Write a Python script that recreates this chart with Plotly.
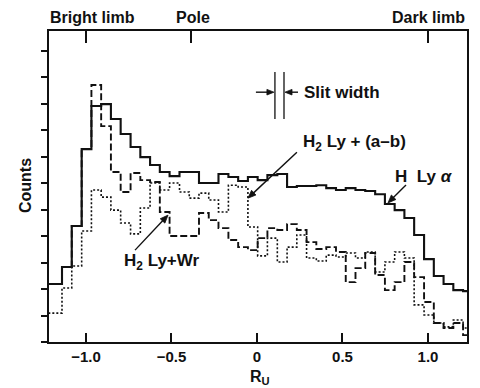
import math
import plotly.graph_objects as go

# ---- data ----
bin_edges = [-1.220, -1.140, -1.083, -1.025, -0.968, -0.911, -0.854, -0.797, -0.739,
             -0.682, -0.625, -0.568, -0.511, -0.453, -0.396, -0.339, -0.282, -0.225,
             -0.167, -0.110, -0.053, 0.004, 0.061, 0.119, 0.176, 0.233, 0.290, 0.347,
             0.405, 0.462, 0.519, 0.576, 0.633, 0.691, 0.748, 0.805, 0.862, 0.919,
             0.977, 1.034, 1.091, 1.148, 1.205, 1.262]

h_ly_alpha = [2.19, 2.83, 4.38, 7.28, 8.91, 8.98, 8.42, 7.85, 7.36, 6.98, 6.68,
              6.42, 6.26, 6.42, 6.42, 6.00, 6.00, 6.34, 6.23, 6.08, 6.23, 6.11,
              6.30, 6.34, 5.85, 5.89, 5.89, 5.92, 5.81, 5.74, 5.81, 5.74, 5.70,
              5.58, 5.21, 4.98, 4.68, 4.04, 3.13, 2.49, 2.19, 1.96, 1.92]

h2_ly_wr = [2.19, 2.83, 4.38, 7.28, 9.70, 8.15, 6.42, 5.66, 6.38, 6.11, 6.04,
            4.91, 4.00, 4.00, 4.00, 4.87, 4.60, 4.30, 3.85, 3.58, 3.47, 3.92,
            4.30, 4.23, 4.45, 4.23, 3.77, 3.51, 3.58, 3.40, 2.26, 2.79, 3.36,
            2.53, 1.96, 2.26, 3.02, 2.45, 1.51, 0.72, 0.53, 0.72, 0.26]

h2_ly_ab = [1.09, 2.04, 2.87, 4.19, 5.74, 5.47, 4.98, 4.49, 4.08, 5.06, 6.00,
            5.74, 6.00, 5.66, 5.43, 5.62, 5.36, 4.91, 5.92, 5.85, 4.34, 3.25,
            3.92, 3.02, 3.58, 4.04, 3.17, 3.06, 3.28, 3.21, 3.36, 3.17, 3.40,
            2.64, 3.02, 3.40, 3.17, 1.40, 1.02, 0.72, 0.57, 0.83, 0.53]

x_tickvals = [-1.0, -0.5, 0.0, 0.5, 1.0]
x_ticktext = ["\u22121.0", "\u22120.5", "0", "0.5", "1.0"]
y_tickvals = list(range(0, 12))
top_tickvals = [-1.0, -0.386, 1.0]
top_labels = ["Bright limb", "Pole", "Dark limb"]
slit_edges = [0.105, 0.158]

X_RANGE = [-1.216, 1.228]
Y_RANGE = [0, 11.74]
INK = "#111111"
FONT = "Liberation Sans"


def step(vals):
    return bin_edges, list(vals) + [vals[-1]]


fig = go.Figure()
for vals, dash, width in [(h2_ly_ab, "2px,2px", 1.6),
                          (h2_ly_wr, "7px,3px", 1.9),
                          (h_ly_alpha, "solid", 2.1)]:
    xs, ys = step(vals)
    fig.add_trace(go.Scatter(x=xs, y=ys, mode="lines", line_shape="hv",
                             line=dict(color=INK, width=width, dash=dash),
                             showlegend=False, hoverinfo="skip"))

# dummy trace for the top axis
fig.add_trace(go.Scatter(x=[None], y=[None], xaxis="x2", showlegend=False,
                         hoverinfo="skip"))

PX_L, PX_R, PX_T, PX_B = 49, 467, 31, 342


def px2paper(px, py):
    return (px - PX_L) / (PX_R - PX_L), (PX_B - py) / (PX_B - PX_T)


def label_font(size=16):
    return dict(family=FONT, size=size, color=INK, weight="bold")


def txt(text, x, y, xanchor="center", size=17, **kw):
    d = dict(text=text, x=x, y=y, xref="x", yref="y", showarrow=False,
             xanchor=xanchor, yanchor="middle", font=label_font(size))
    d.update(kw)
    return d


def ptxt(text, px, py, xanchor="center", size=16, **kw):
    x, y = px2paper(px, py)
    d = dict(text=text, x=x, y=y, xref="paper", yref="paper", showarrow=False,
             xanchor=xanchor, yanchor="middle", font=label_font(size))
    d.update(kw)
    return d


def arrow_shapes(hx, hy, dx, dy, head_len=8.0, head_half=3.2):
    """Arrow with tip at data point (hx, hy); tail offset (dx, dy) in screen px (dy down)."""
    tx, ty = dx, -dy
    L = math.hypot(tx, ty)
    ux, uy = tx / L, ty / L
    bx, by = ux * head_len, uy * head_len
    px_, py_ = -uy * head_half, ux * head_half
    common = dict(xref="x", yref="y", xsizemode="pixel", ysizemode="pixel",
                  xanchor=hx, yanchor=hy)
    line = dict(type="path", path=f"M {tx:.2f},{ty:.2f} L {bx*0.6:.2f},{by*0.6:.2f}",
                line=dict(color=INK, width=1.4), **common)
    head = dict(type="path",
                path=(f"M 0,0 L {bx+px_:.2f},{by+py_:.2f} "
                      f"L {bx-px_:.2f},{by-py_:.2f} Z"),
                fillcolor=INK, line=dict(color=INK, width=0.8), **common)
    return [line, head]


ann = []
ann.append(ptxt(top_labels[0], 48, 17, xanchor="left"))
ann.append(ptxt(top_labels[1], 193, 17))
ann.append(ptxt(top_labels[2], 467, 17, xanchor="right"))
ann.append(ptxt("Counts", 25, 186, textangle=-90))
ann.append(ptxt("R<sub>U</sub>", 260, 377))

ann.append(txt("H<sub>2</sub> Ly + (a\u2013b)", 0.573, 7.51))
ann.append(txt("H  Ly <i>\u03b1</i>", 0.977, 6.23))
ann.append(txt("H<sub>2</sub> Ly+Wr", -0.556, 3.02))
ann.append(txt("Slit width", 0.262, 9.43, xanchor="left"))

shapes = [dict(type="line", xref="x", yref="y", x0=sx, x1=sx, y0=8.42, y1=10.19,
               line=dict(color=INK, width=1.3)) for sx in slit_edges]
shapes += arrow_shapes(-0.053, 5.43, 49, -46)
shapes += arrow_shapes(0.766, 5.25, 18, -18)
shapes += arrow_shapes(-0.520, 4.79, -33, 35)
shapes += arrow_shapes(slit_edges[0] - 0.006, 9.43, -18, 0, head_len=7, head_half=2.8)
shapes += arrow_shapes(slit_edges[1] + 0.006, 9.43, 13, 0, head_len=7, head_half=2.8)

fig.update_layout(
    width=480, height=388,
    margin=dict(l=PX_L, r=480 - PX_R, t=PX_T, b=388 - PX_B),
    paper_bgcolor="white", plot_bgcolor="white",
    annotations=ann, shapes=shapes,
    xaxis=dict(range=X_RANGE, tickvals=x_tickvals, ticktext=x_ticktext,
               ticks="inside", ticklen=9, tickwidth=1.5, tickcolor=INK,
               showline=True, linecolor=INK, linewidth=2, mirror=True,
               showgrid=False, zeroline=False,
               tickfont=label_font(15)),
    xaxis2=dict(range=X_RANGE, overlaying="x", side="top", tickvals=top_tickvals,
                ticks="inside", ticklen=12, tickwidth=1.5, tickcolor=INK,
                showticklabels=False, showline=False, showgrid=False, zeroline=False),
    yaxis=dict(range=Y_RANGE, tickvals=y_tickvals, showticklabels=False,
               ticks="outside", ticklen=6, tickwidth=1.5, tickcolor=INK,
               showline=True, linecolor=INK, linewidth=2, mirror=True,
               showgrid=False, zeroline=False),
)

fig.write_html("out.html")
